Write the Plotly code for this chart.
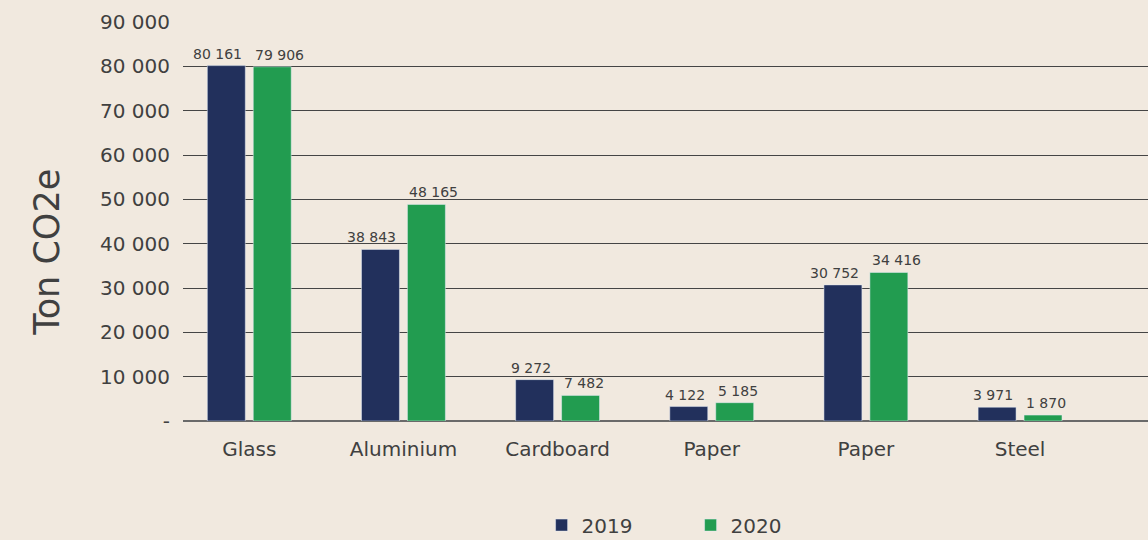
import plotly.graph_objects as go

categories = ["Glass", "Aluminium", "Cardboard", "Paper", "Paper", "Steel"]
series_names = ["2019", "2020"]
# bar heights as drawn in the reference
values_2019 = [80161, 38700, 9330, 3260, 30700, 3110]
values_2020 = [79906, 48850, 5780, 4130, 33500, 1330]
# printed data labels
labels_2019 = ["80 161", "38 843", "9 272", "4 122", "30 752", "3 971"]
labels_2020 = ["79 906", "48 165", "7 482", "5 185", "34 416", "1 870"]
y_tickvals = [0, 10000, 20000, 30000, 40000, 50000, 60000, 70000, 80000, 90000]
y_ticktext = ["-", "10 000", "20 000", "30 000", "40 000", "50 000", "60 000", "70 000", "80 000", "90 000"]

BG = "#F1E9DF"
NAVY = "#22305C"
GREEN = "#229C50"
TXT = "#404040"
FONT = "DejaVu Sans"

xpos = list(range(len(categories)))

fig = go.Figure()
fig.add_trace(go.Bar(x=xpos, y=values_2019, name=series_names[0], marker_color=NAVY))
fig.add_trace(go.Bar(x=xpos, y=values_2020, name=series_names[1], marker_color=GREEN))

annotations = []
for series_vals, series_labels, anchor, shift in ((values_2019, labels_2019, "right", -5),
                                                  (values_2020, labels_2020, "left", 4)):
    for xi, v, lab in zip(xpos, series_vals, series_labels):
        annotations.append(dict(x=xi, y=v, text=lab, xref="x", yref="y",
                                xanchor=anchor, yanchor="bottom", xshift=shift, yshift=2,
                                showarrow=False, font=dict(size=14, color=TXT, family=FONT)))

annotations.append(dict(text="Ton CO2e", textangle=-90, xref="paper", yref="paper",
                        x=-0.141, y=0.424, xanchor="center", yanchor="middle",
                        showarrow=False, font=dict(size=35, color=TXT, family=FONT)))

fig.update_layout(
    width=1148, height=540,
    margin=dict(l=183, r=0, t=22, b=119, autoexpand=False),
    paper_bgcolor=BG, plot_bgcolor=BG,
    font=dict(family=FONT, color=TXT, size=20),
    barmode="group", bargap=0.404, bargroupgap=0.174,
    showlegend=True,
    legend=dict(orientation="h", x=0.526, xanchor="center", y=-0.212, yanchor="top",
                font=dict(size=20, color=TXT, family=FONT), itemwidth=30,
                entrywidth=104),
    xaxis=dict(tickvals=xpos, ticktext=categories, range=[-0.43, 5.83],
               showgrid=False, zeroline=False, showline=False,
               ticks="outside", ticklen=10, tickcolor=BG,
               tickfont=dict(size=20, color=TXT, family=FONT)),
    yaxis=dict(range=[0, 90000], tickvals=y_tickvals, ticktext=y_ticktext,
               showgrid=True, gridcolor="#454545", gridwidth=1.3,
               zeroline=True, zerolinecolor="#6a6a6a", zerolinewidth=2,
               ticks="outside", ticklen=8, tickcolor=BG,
               tickfont=dict(size=20, color=TXT, family=FONT)),
    annotations=annotations,
)

fig.write_html("out.html", config={"displayModeBar": False},
               post_script="document.body.style.margin='0';document.body.style.overflow='hidden';")
